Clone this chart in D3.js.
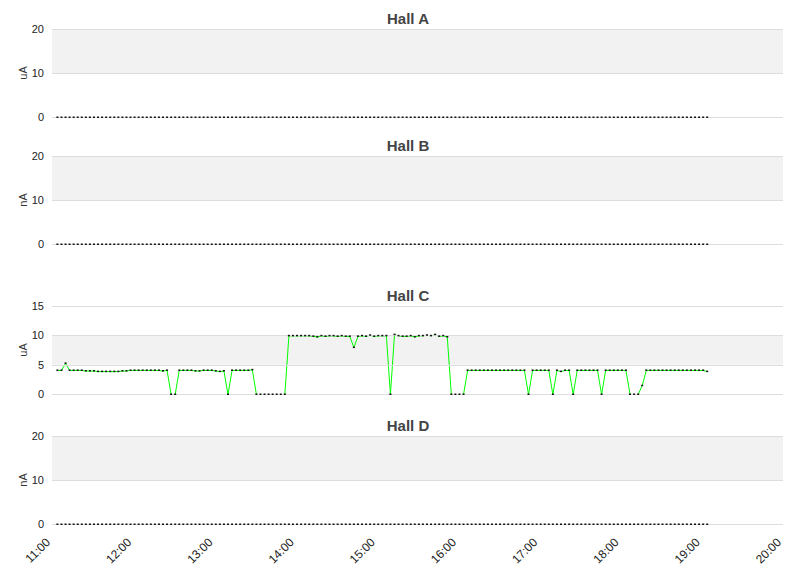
<!DOCTYPE html>
<html><head><meta charset="utf-8">
<script src="https://cdn.jsdelivr.net/npm/d3@7"></script>
<style>body{margin:0;background:#fff}svg{font-family:"Liberation Sans",Arial,sans-serif}</style>
</head><body><svg id="c" width="811" height="578"></svg>
<script>
const startMin = 4, stepMin = 3; // sample times: minutes after 11:00
const hallC = [
4.1,4.1,5.3,4.1,4.1,4.1,4.1,4.0,4.0,4.0,
3.9,3.9,3.9,3.9,3.9,3.9,4.0,4.0,4.1,4.1,
4.1,4.1,4.1,4.1,4.1,4.1,4.0,4.1,0,0,
4.1,4.1,4.1,4.1,4.0,4.0,4.1,4.1,4.1,4.0,
3.9,4.0,0,4.1,4.1,4.1,4.1,4.1,4.2,0,
0,0,0,0,0,0,0,10.0,10.0,10.0,
10.0,10.0,10.0,9.9,9.8,10.0,9.9,10.0,10.0,9.9,
10.0,9.9,9.9,8.0,9.9,10.0,9.9,10.1,9.9,10.0,
10.0,10.0,0,10.2,10.0,9.9,9.9,10.0,9.8,10.0,
10.0,10.1,10.0,10.2,9.9,10.0,9.8,0,0,0,
0,4.1,4.1,4.1,4.1,4.1,4.1,4.1,4.1,4.1,
4.1,4.1,4.1,4.1,4.1,4.1,0,4.1,4.1,4.1,
4.1,4.1,0,4.1,3.9,4.1,4.1,0,4.1,4.1,
4.1,4.1,4.1,4.1,0,4.1,4.1,4.1,4.1,4.1,
4.1,0,0,0,1.5,4.1,4.1,4.1,4.1,4.1,
4.1,4.1,4.1,4.1,4.1,4.1,4.1,4.1,4.1,4.1,3.9];
const hallA = hallC.map(() => 0), hallB = hallC.map(() => 0), hallD = hallC.map(() => 0);
const titles = ["Hall A","Hall B","Hall C","Hall D"];
const units = ["uA","nA","uA","nA"];
const yMax = [20,20,15,20];
const yTicks = [[0,10,20],[0,10,20],[0,5,10,15],[0,10,20]];
const xTickHours = [11,12,13,14,15,16,17,18,19,20];
const series = [hallA,hallB,hallC,hallD];

const svg = d3.select("#c");
const x = d3.scaleLinear().domain([0,540]).range([52,783]);
const tops = [29,156,306,436], h = 88;
series.forEach((vals,k)=>{
  const y = d3.scaleLinear().domain([0,yMax[k]]).range([tops[k]+h,tops[k]]);
  const g = svg.append("g");
  const t = yTicks[k];
  const bandLo = k===2 ? 5 : 10, bandHi = k===2 ? 10 : 20;
  g.append("rect").attr("x",52).attr("width",731).attr("y",y(bandHi)).attr("height",y(bandLo)-y(bandHi)).attr("fill","#f2f2f2");
  g.append("text").attr("x",408).attr("y",tops[k]-5).attr("text-anchor","middle")
    .attr("font-size",15).attr("font-weight","bold").attr("fill","#444").text(titles[k]);
  g.append("text").attr("transform",`translate(27,${tops[k]+h/2}) rotate(-90)`).attr("text-anchor","middle")
    .attr("font-size",11).attr("fill","#333").text(units[k]);
  const data = vals.map((v,i)=>({t:startMin+i*stepMin,v}));
  g.append("path").datum(data).attr("fill","none").attr("stroke","#00ff00").attr("stroke-width",1)
    .attr("transform","translate(0,0.5)")
    .attr("d",d3.line().x(d=>x(d.t)).y(d=>y(d.v)));
  t.forEach(v=>{
    g.append("line").attr("x1",52).attr("x2",783).attr("y1",y(v)+0.5).attr("y2",y(v)+0.5)
      .attr("stroke","#ddd").attr("shape-rendering","crispEdges");
    g.append("text").attr("x",44).attr("y",y(v)+4).attr("text-anchor","end").attr("font-size",11).attr("fill","#222").text(v);
  });
  g.selectAll("rect.pt").data(data).join("rect").attr("class","pt")
    .attr("x",d=>x(d.t)-1).attr("y",d=>y(d.v)-0.5).attr("width",2).attr("height",1.5).attr("fill","#111");
});
xTickHours.forEach(hh=>{
  svg.append("text").attr("transform",`translate(${x((hh-11)*60)-7},537) rotate(-45)`)
    .attr("text-anchor","end").attr("dy","0.7em").attr("font-size",12).attr("fill","#222").text(hh+":00");
});
</script></body></html>
